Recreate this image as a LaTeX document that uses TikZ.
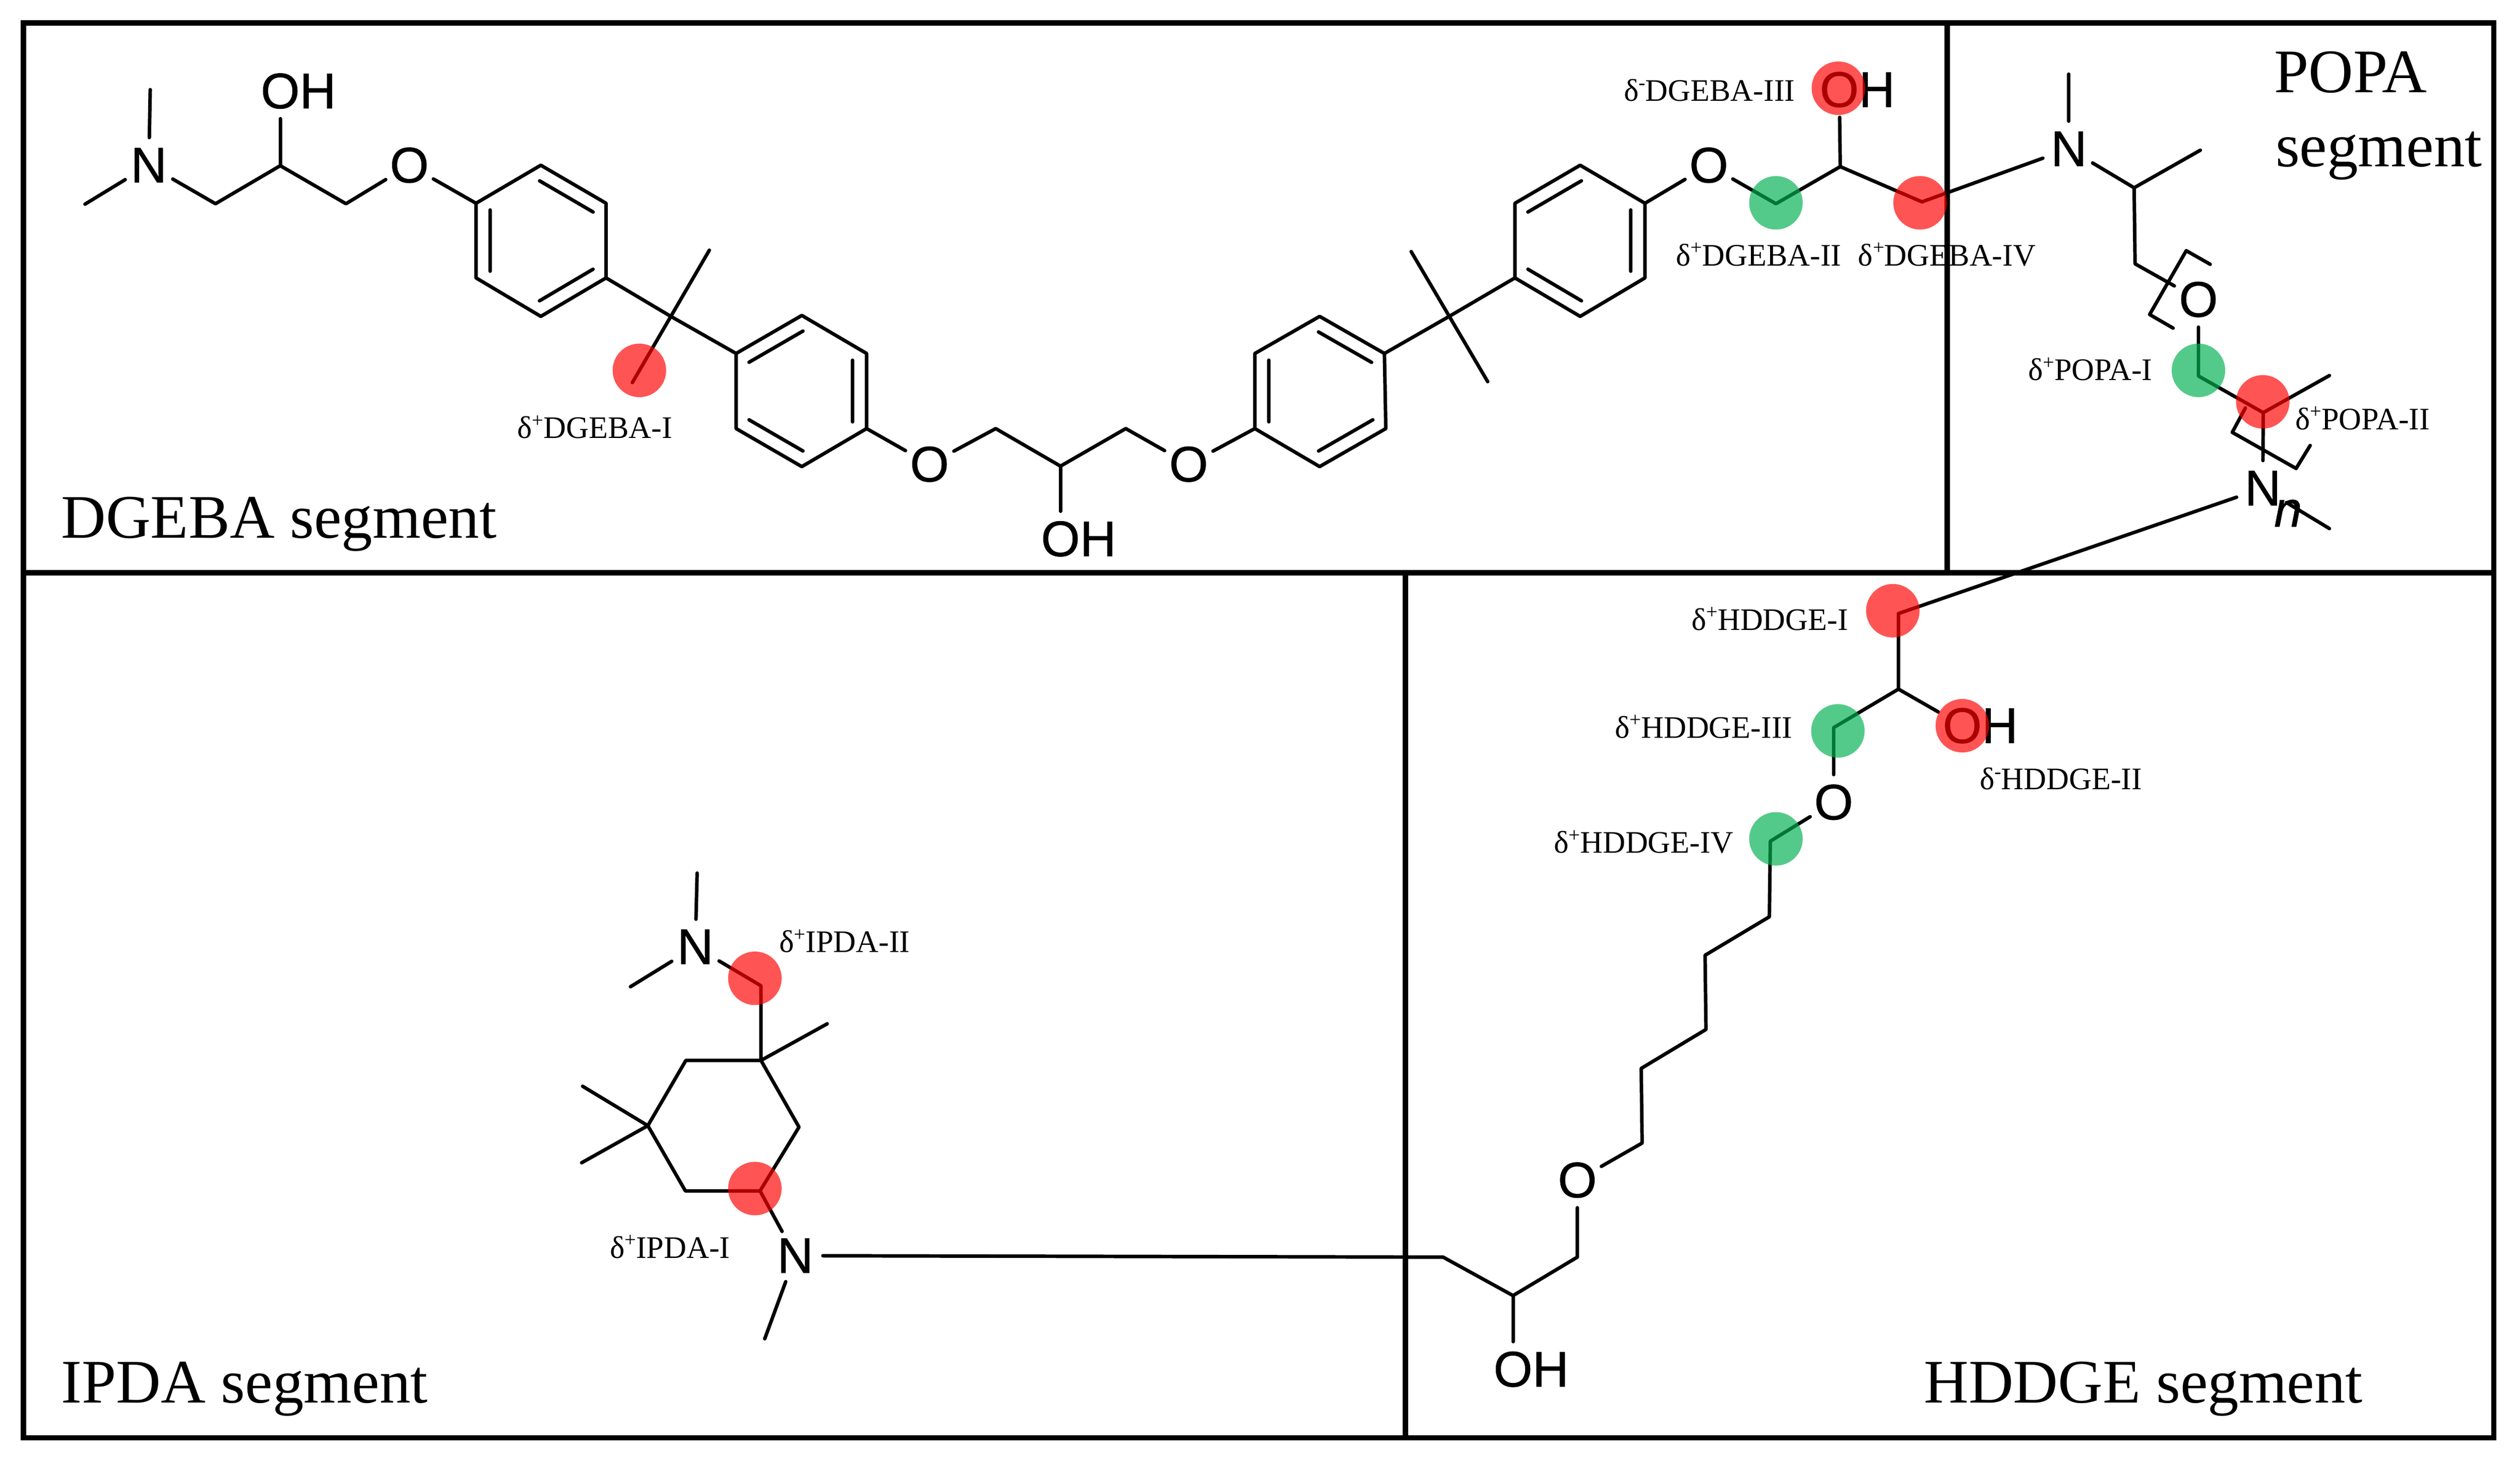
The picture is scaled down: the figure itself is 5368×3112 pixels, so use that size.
\documentclass[tikz,border=0pt]{standalone}
\usepackage{fontspec}
\usepackage{graphicx}
\setmainfont{Liberation Serif}
\newfontfamily\atomfont[FakeBold=0.8]{Liberation Sans}
\usetikzlibrary{calc}

\tikzset{
  panel/.style={line width=8.6pt},
  bond/.style={line width=5.6pt,line join=round,line cap=round},
  atom/.style={circle,inner sep=0pt,minimum size=88pt,font=\atomfont\fontsize{80}{80}\selectfont},
  plusmark/.style={circle,inner sep=0pt,minimum size=85.5pt,fill={rgb,255:red,255;green,0;blue,0},fill opacity=0.67},
  posmark/.style={circle,inner sep=0pt,minimum size=85.5pt,fill={rgb,255:red,0;green,176;blue,80},fill opacity=0.67},
  chglabel/.style={anchor=base west,inner sep=0pt,font=\fontsize{50}{50}\selectfont},
  seglabel/.style={anchor=base west,inner sep=0pt,font=\fontsize{99}{99}\selectfont}
}
\newcommand{\chg}[1]{δ\raisebox{.36em}{\scalebox{.65}{#1}}}
\newcommand{\innerbond}[2]{\draw[bond] ($(#1)!0.09!(#2)!22.5pt!90:(#2)$) -- ($(#2)!0.09!(#1)!22.5pt!-90:(#1)$);}

\begin{document}
\begin{tikzpicture}[x=0.75pt,y=0.75pt,yscale=-1,xscale=1]
\useasboundingbox (0,0) rectangle (5368,3112);

%Atoms of DGEBA segment
\node[atom] (nA) at (317,352) {N};
\node[atom] (ohA) at (597,194) {O\rlap{H}};
\node[atom] (oA) at (872,352) {O};
\node[atom] (oB) at (1980,989) {O};
\node[atom] (ohB) at (2259,1148) {O\rlap{H}};
\node[atom] (oC) at (2532,989) {O};
\node[atom] (oD) at (3640,352) {O};
\node[atom] (ohC) at (3918,191) {O\rlap{H}};
%Atoms of POPA segment
\node[atom] (nB) at (4407,317) {N};
\node[atom] (oE) at (4683,638) {O};
\node[atom] (nC) at (4820,1040) {N};
%Atoms of HDDGE segment
\node[atom] (ohD) at (4180,1546) {O\rlap{H}};
\node[atom] (oF) at (3906,1709) {O};
\node[atom] (oG) at (3360,2514) {O};
\node[atom] (ohE) at (3223,2917) {O\rlap{H}};
%Atoms of IPDA segment
\node[atom] (nD) at (1694,2675) {N};
\node[atom] (nE) at (1481,2017) {N};

%Carbons, left end of DGEBA
\coordinate (mA) at (320,191);
\coordinate (mB) at (181,435);
\coordinate (cA) at (459,434);
\coordinate (cB) at (597,353);
\coordinate (cC) at (737,434);
%First ring
\coordinate (raa) at (1152,352);
\coordinate (rab) at (1291,433);
\coordinate (rac) at (1291,592);
\coordinate (rad) at (1152,674);
\coordinate (rae) at (1014,592);
\coordinate (raf) at (1014,433);
\coordinate (qA) at (1429,674);
\coordinate (mC) at (1511,533);
\coordinate (mD) at (1347,815);
%Second ring
\coordinate (rba) at (1708,672);
\coordinate (rbb) at (1846,753);
\coordinate (rbc) at (1846,913);
\coordinate (rbd) at (1708,994);
\coordinate (rbe) at (1568,913);
\coordinate (rbf) at (1568,753);
\coordinate (cD) at (2121,913);
\coordinate (cE) at (2259,993);
\coordinate (cF) at (2398,913);
%Third ring
\coordinate (rca) at (2811,674);
\coordinate (rcb) at (2949,753);
\coordinate (rcc) at (2952,913);
\coordinate (rcd) at (2811,994);
\coordinate (rce) at (2673,913);
\coordinate (rcf) at (2673,753);
\coordinate (qB) at (3087,674);
\coordinate (mE) at (3006,536);
\coordinate (mF) at (3169,813);
%Fourth ring
\coordinate (rda) at (3366,352);
\coordinate (rdb) at (3504,433);
\coordinate (rdc) at (3504,592);
\coordinate (rdd) at (3366,674);
\coordinate (rde) at (3227,592);
\coordinate (rdf) at (3227,433);
\coordinate (cG) at (3783,434);
\coordinate (cH) at (3920,355);
\coordinate (cI) at (4094,430);
%POPA
\coordinate (mG) at (4407,158);
\coordinate (cJ) at (4546,400);
\coordinate (mH) at (4687,320);
\coordinate (cK) at (4548,562);
\coordinate (cL) at (4683,801);
\coordinate (cM) at (4821,879);
\coordinate (mI) at (4962,800);
\coordinate (mJ) at (4962,1126);
\coordinate (bAa) at (4708,563);
\coordinate (bAb) at (4657,534);
\coordinate (bAc) at (4579,670);
\coordinate (bAd) at (4629,699);
\coordinate (bBa) at (4783,869);
\coordinate (bBb) at (4755,921);
\coordinate (bBc) at (4891,998);
\coordinate (bBd) at (4921,949);
%HDDGE
\coordinate (cN) at (4044,1307);
\coordinate (cO) at (4044,1468);
\coordinate (cP) at (3906,1550);
\coordinate (cQ) at (3771,1792);
\coordinate (cR) at (3769,1953);
\coordinate (cS) at (3632,2035);
\coordinate (cT) at (3634,2193);
\coordinate (cU) at (3496,2276);
\coordinate (cV) at (3498,2435);
\coordinate (cW) at (3360,2678);
\coordinate (cX) at (3223,2760);
\coordinate (cY) at (3074,2678);
%IPDA
\coordinate (rea) at (1621,2259);
\coordinate (reb) at (1702,2401);
\coordinate (rec) at (1619,2537);
\coordinate (red) at (1460,2537);
\coordinate (ree) at (1380,2398);
\coordinate (ref) at (1461,2259);
\coordinate (mK) at (1241,2314);
\coordinate (mL) at (1239,2477);
\coordinate (mM) at (1762,2181);
\coordinate (cZ) at (1621,2100);
\coordinate (mN) at (1485,1860);
\coordinate (mO) at (1343,2102);
\coordinate (mP) at (1629,2852);

%Straight Lines
\draw[bond] (mA) -- (nA);
\draw[bond] (mB) -- (nA);
\draw[bond] (nA) -- (cA) -- (cB) -- (cC) -- (oA) -- (raf);
\draw[bond] (cB) -- (ohA);
\draw[bond] (raa) -- (rab) -- (rac) -- (rad) -- (rae) -- (raf) -- cycle;
\innerbond{raa}{rab}
\innerbond{rac}{rad}
\innerbond{rae}{raf}
\draw[bond] (rac) -- (qA) -- (rbf);
\draw[bond] (mC) -- (mD);
\draw[bond] (rba) -- (rbb) -- (rbc) -- (rbd) -- (rbe) -- (rbf) -- cycle;
\innerbond{rbb}{rbc}
\innerbond{rbd}{rbe}
\innerbond{rbf}{rba}
\draw[bond] (rbc) -- (oB) -- (cD) -- (cE) -- (cF) -- (oC) -- (rce);
\draw[bond] (cE) -- (ohB);
\draw[bond] (rca) -- (rcb) -- (rcc) -- (rcd) -- (rce) -- (rcf) -- cycle;
\innerbond{rca}{rcb}
\innerbond{rcc}{rcd}
\innerbond{rce}{rcf}
\draw[bond] (rcb) -- (qB) -- (rde);
\draw[bond] (mE) -- (mF);
\draw[bond] (rda) -- (rdb) -- (rdc) -- (rdd) -- (rde) -- (rdf) -- cycle;
\innerbond{rdb}{rdc}
\innerbond{rdd}{rde}
\innerbond{rdf}{rda}
\draw[bond] (rdb) -- (oD) -- (cG) -- (cH) -- (cI) -- (nB) -- (cJ) -- (cK) -- (oE) -- (cL) -- (cM) -- (nC) -- (mJ);
\draw[bond] (cH) -- (ohC);
\draw[bond] (mG) -- (nB);
\draw[bond] (cJ) -- (mH);
\draw[bond] (cM) -- (mI);
\draw[bond] (bAa) -- (bAb) -- (bAc) -- (bAd);
\draw[bond] (bBa) -- (bBb) -- (bBc) -- (bBd);
\draw[bond] (nC) -- (cN) -- (cO) -- (cP) -- (oF) -- (cQ) -- (cR) -- (cS) -- (cT) -- (cU) -- (cV) -- (oG) -- (cW) -- (cX) -- (cY) -- (nD);
\draw[bond] (cO) -- (ohD);
\draw[bond] (cX) -- (ohE);
\draw[bond] (rea) -- (reb) -- (rec) -- (red) -- (ree) -- (ref) -- cycle;
\draw[bond] (ree) -- (mK);
\draw[bond] (ree) -- (mL);
\draw[bond] (rea) -- (mM);
\draw[bond] (rea) -- (cZ) -- (nE);
\draw[bond] (mN) -- (nE);
\draw[bond] (mO) -- (nE);
\draw[bond] (rec) -- (nD) -- (mP);

% Panels
\draw[panel] (50,49) rectangle (5312,3063);
\draw[panel] (50,1220) -- (5312,1220);
\draw[panel] (4148,49) -- (4148,1220);
\draw[panel] (2994,1220) -- (2994,3063);

%Shape: Circle
\node[plusmark] (markA) at (1362,789) {};
\node[posmark] (markB) at (3783,432) {};
\node[plusmark] (markC) at (3916,188) {};
\node[plusmark] (markD) at (4090,432) {};
\node[posmark] (markE) at (4683,789) {};
\node[plusmark] (markF) at (4820,856) {};
\node[plusmark] (markG) at (4032,1301) {};
\node[plusmark] (markH) at (4180,1546) {};
\node[posmark] (markI) at (3915,1557) {};
\node[posmark] (markJ) at (3783,1787) {};
\node[plusmark] (markK) at (1608,2084) {};
\node[plusmark] (markL) at (1608,2532) {};

% Text Node
\node[chglabel] (lblDgebaI) at (1102,934) {\chg{+}DGEBA-I};
\node[chglabel] (lblDgebaII) at (3570,566) {\chg{+}DGEBA-II};
\node[chglabel] (lblDgebaIII) at (3459,215) {\chg{-}DGEBA-III};
\node[chglabel] (lblDgebaIV) at (3958,566) {\chg{+}DGEBA-IV};
\node[chglabel] (lblPopaI) at (4320,810) {\chg{+}POPA-I};
\node[chglabel] (lblPopaII) at (4889,915) {\chg{+}POPA-II};
\node[chglabel] (lblHddgeI) at (3603,1342) {\chg{+}HDDGE-I};
\node[chglabel] (lblHddgeII) at (4217,1682) {\chg{-}HDDGE-II};
\node[chglabel] (lblHddgeIII) at (3440,1572) {\chg{+}HDDGE-III};
\node[chglabel] (lblHddgeIV) at (3310,1817) {\chg{+}HDDGE-IV};
\node[chglabel] (lblIpdaI) at (1299,2680) {\chg{+}IPDA-I};
\node[chglabel] (lblIpdaII) at (1660,2029) {\chg{+}IPDA-II};
% Text Node
\node[seglabel] (segDgeba) at (130,1146) {DGEBA segment};
\node[seglabel] (segPopa) at (4844,197) {POPA};
\node[seglabel] (segPopaB) at (4847,355) {segment};
\node[seglabel] (segIpda) at (130,2988) {IPDA segment};
\node[seglabel] (segHddge) at (4098,2988) {HDDGE segment};
\node[anchor=base west,inner sep=0pt,font=\atomfont\itshape\fontsize{80}{80}\selectfont] (repeatN) at (4844,1122) {n};

\end{tikzpicture}
\end{document}
